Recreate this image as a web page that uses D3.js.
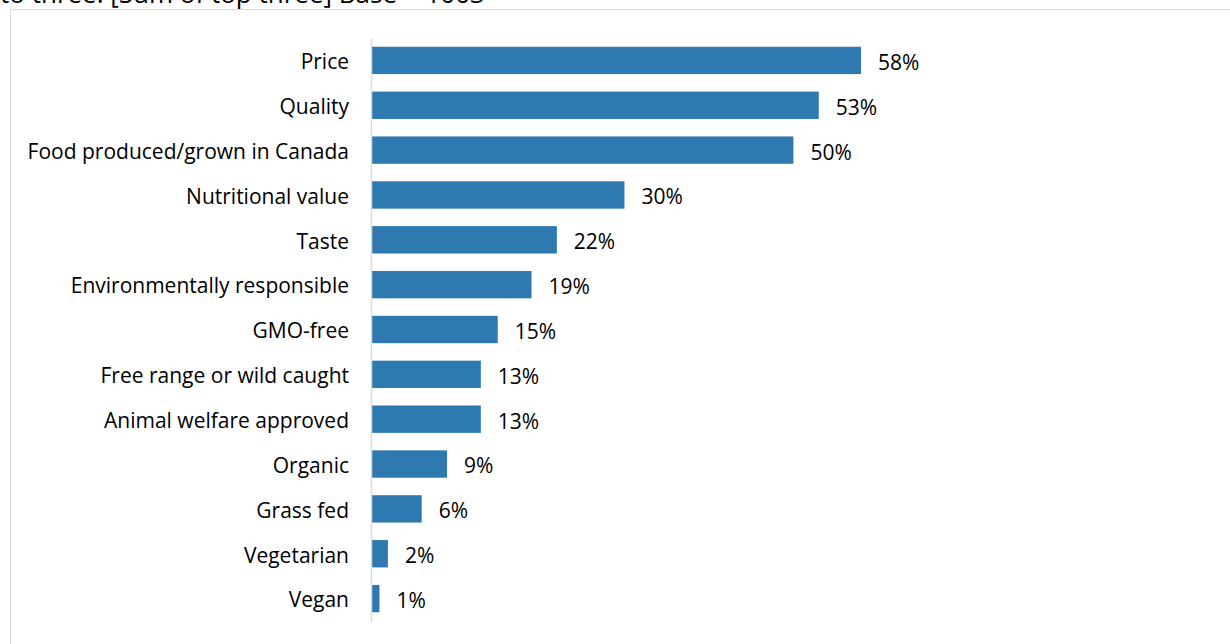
<!DOCTYPE html>
<html>
<head>
<meta charset="utf-8">
<script src="https://cdn.jsdelivr.net/npm/d3@7"></script>
<style>
  html, body { margin: 0; padding: 0; background: #fff; }
  svg { display: block; }
</style>
</head>
<body>
<svg id="chart" width="1230" height="644"></svg>
<script>
// Factors in food purchase decisions (sum of top three)
const categories = [
  "Price", "Quality", "Food produced/grown in Canada", "Nutritional value",
  "Taste", "Environmentally responsible", "GMO-free", "Free range or wild caught",
  "Animal welfare approved", "Organic", "Grass fed", "Vegetarian", "Vegan"
];
const values = [58, 53, 50, 30, 22, 19, 15, 13, 13, 9, 6, 2, 1];
const subtitle = "to three. [Sum of top three] Base = 1003";

const svg = d3.select("#chart");
const font = "'Open Sans', sans-serif";

// Subtitle line above the chart frame (runs off the top edge)
svg.append("text")
  .attr("x", 0).attr("y", 3)
  .attr("font-family", font).attr("font-size", 26)
  .attr("fill", "#000")
  .text(subtitle);

// Chart frame
svg.append("rect")
  .attr("x", 10.5).attr("y", 9.5)
  .attr("width", 1230).attr("height", 660)
  .attr("fill", "#fff").attr("stroke", "#d9d9d9").attr("stroke-width", 1);

const x0 = 371;
const x = d3.scaleLinear().domain([0, 58]).range([x0, 861]);
const y = d3.scaleBand().domain(categories).range([38, 621]).paddingInner(0.39).paddingOuter(0.195);

// Bars
svg.append("g").selectAll("rect")
  .data(values)
  .join("rect")
  .attr("x", x(0))
  .attr("y", (d, i) => y(categories[i]))
  .attr("width", d => x(d) - x(0))
  .attr("height", y.bandwidth())
  .attr("fill", "#2e7ab0");

// Category axis
const axis = svg.append("g")
  .attr("transform", `translate(${x0},0)`)
  .call(d3.axisLeft(y).tickSize(0).tickPadding(22));
axis.select(".domain").attr("stroke", "#d9d9d9").attr("stroke-width", 1.5);
axis.selectAll("text")
  .attr("dy", "0.42em")
  .attr("font-family", font).attr("font-size", 21).attr("fill", "#000");

// Value labels
svg.append("g").selectAll("text")
  .data(values)
  .join("text")
  .attr("x", d => x(d) + 17)
  .attr("y", (d, i) => y(categories[i]) + y.bandwidth() / 2)
  .attr("dy", "0.45em")
  .attr("font-family", font).attr("font-size", 21).attr("fill", "#000")
  .text(d => d + "%");
</script>
</body>
</html>
